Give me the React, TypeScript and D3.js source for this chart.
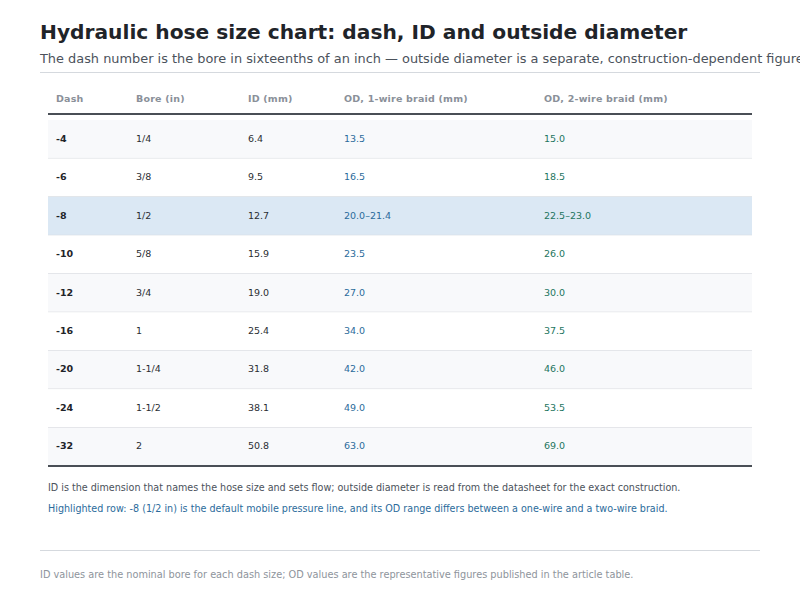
import React, { useEffect, useRef } from "react";
import * as d3 from "d3";

const columns = ["Dash", "Bore (in)", "ID (mm)", "OD, 1-wire braid (mm)", "OD, 2-wire braid (mm)"];
const dashes = ["-4", "-6", "-8", "-10", "-12", "-16", "-20", "-24", "-32"];
const bores = ["1/4", "3/8", "1/2", "5/8", "3/4", "1", "1-1/4", "1-1/2", "2"];
const idMm = ["6.4", "9.5", "12.7", "15.9", "19.0", "25.4", "31.8", "38.1", "50.8"];
const od1 = ["13.5", "16.5", "20.0–21.4", "23.5", "27.0", "34.0", "42.0", "49.0", "63.0"];
const od2 = ["15.0", "18.5", "22.5–23.0", "26.0", "30.0", "37.5", "46.0", "53.5", "69.0"];
const highlightDash = "-8";

const title = "Hydraulic hose size chart: dash, ID and outside diameter";
const subtitle = "The dash number is the bore in sixteenths of an inch — outside diameter is a separate, construction-dependent figure";
const note1 = "ID is the dimension that names the hose size and sets flow; outside diameter is read from the datasheet for the exact construction.";
const note2 = "Highlighted row: -8 (1/2 in) is the default mobile pressure line, and its OD range differs between a one-wire and a two-wire braid.";
const footer = "ID values are the nominal bore for each dash size; OD values are the representative figures published in the article table.";

const W = 800;
const H = 600;
const FONT = "'DejaVu Sans', sans-serif";

export default function App() {
  const ref = useRef<SVGSVGElement | null>(null);

  useEffect(() => {
    const svg = d3.select(ref.current);
    svg.selectAll("*").remove();
    svg.attr("font-family", FONT);

    svg.append("rect").attr("width", W).attr("height", H).attr("fill", "#ffffff");

    svg.append("text").attr("x", 40).attr("y", 39).attr("font-size", 20.2).attr("font-weight", 700)
      .attr("fill", "#1f2429").text(title);
    svg.append("text").attr("x", 40).attr("y", 63).attr("font-size", 12.9).attr("fill", "#4b525b").text(subtitle);
    svg.append("line").attr("x1", 40).attr("x2", 760).attr("y1", 72.5).attr("y2", 72.5)
      .attr("stroke", "#d5d9de").attr("stroke-width", 1.2);

    const rows = dashes.map((d, i) => ({ dash: d, bore: bores[i], id: idMm[i], od1: od1[i], od2: od2[i] }));

    const colX = d3.scaleOrdinal<string, number>().domain(columns).range([48, 128, 240, 336, 536]);
    const tableLeft = 48, tableRight = 752;
    const y = d3.scaleBand<string>().domain(dashes).range([120, 466]).paddingInner(0);
    const pad = 8;

    // header
    const hdr = svg.append("g");
    columns.forEach((c) => {
      hdr.append("text").attr("x", colX(c) + pad).attr("y", 101.8).attr("font-size", 9.5)
        .attr("letter-spacing", 0.2)
        .attr("font-weight", 700).attr("fill", "#8a9099").text(c);
    });

    // row backgrounds
    const body = svg.append("g");
    rows.forEach((r, i) => {
      const y0 = y(r.dash)!;
      const fill = r.dash === highlightDash ? "#dbe8f4" : i % 2 === 0 ? "#f8f9fb" : "#ffffff";
      body.append("rect").attr("x", tableLeft).attr("y", y0).attr("width", tableRight - tableLeft)
        .attr("height", y.bandwidth()).attr("fill", fill);
      if (i < rows.length - 1) {
        body.append("line").attr("x1", tableLeft).attr("x2", tableRight)
          .attr("y1", y0 + y.bandwidth()).attr("y2", y0 + y.bandwidth())
          .attr("stroke", "#d3d7dc").attr("stroke-width", 1);
      }
      const cy = y0 + y.bandwidth() / 2 + 2.5;
      const cells: [string, string, string, number][] = [
        [columns[0], r.dash, "#1f2429", 700],
        [columns[1], r.bore, "#2a2e33", 400],
        [columns[2], r.id, "#2a2e33", 400],
        [columns[3], r.od1, "#2b6b9b", 400],
        [columns[4], r.od2, "#1d7560", 400],
      ];
      cells.forEach(([c, v, col, fw]) => {
        body.append("text").attr("x", colX(c) + pad).attr("y", cy).attr("font-size", 9.5)
          .attr("font-weight", fw).attr("fill", col).text(v);
      });
    });

    // rules
    svg.append("line").attr("x1", tableLeft).attr("x2", tableRight).attr("y1", 114).attr("y2", 114)
      .attr("stroke", "#4a4f56").attr("stroke-width", 2);
    svg.append("line").attr("x1", tableLeft).attr("x2", tableRight).attr("y1", 466).attr("y2", 466)
      .attr("stroke", "#4a4f56").attr("stroke-width", 2);

    svg.append("text").attr("x", 48).attr("y", 491).attr("font-size", 9.6).attr("fill", "#4b525b").text(note1);
    svg.append("text").attr("x", 48).attr("y", 512).attr("font-size", 9.6).attr("fill", "#2b6b9b").text(note2);

    svg.append("line").attr("x1", 40).attr("x2", 760).attr("y1", 550.5).attr("y2", 550.5)
      .attr("stroke", "#d5d9de").attr("stroke-width", 1);
    svg.append("text").attr("x", 40).attr("y", 577.5).attr("font-size", 9.75).attr("fill", "#8e949c").text(footer);
  }, []);

  return (
    <svg ref={ref} width={W} height={H} viewBox={`0 0 ${W} ${H}`}
      style={{ position: "absolute", left: 0, top: 0, display: "block" }} />
  );
}
